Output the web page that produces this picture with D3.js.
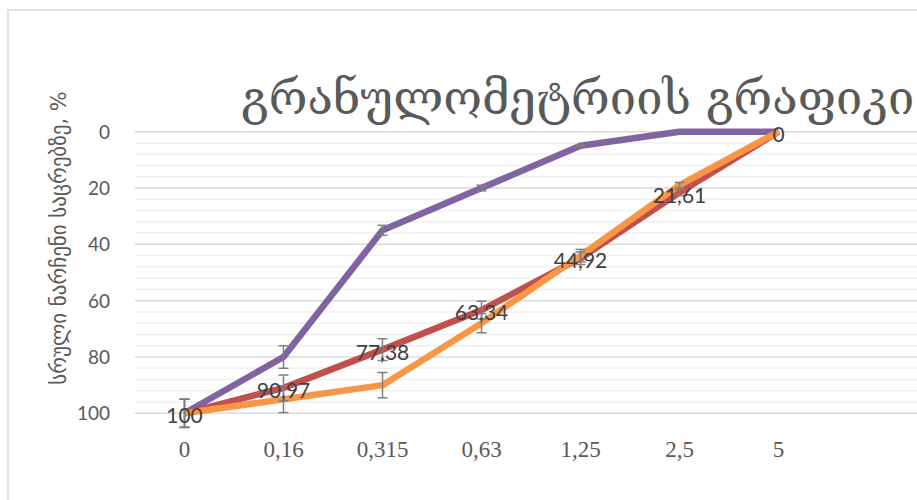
<!DOCTYPE html>
<html>
<head>
<meta charset="utf-8">
<script src="https://cdn.jsdelivr.net/npm/d3@7"></script>
<style>
  body { margin: 0; background: #fff; }
  svg { display: block; }
</style>
</head>
<body>
<svg width="917" height="500"></svg>
<script>
// sieve sizes (mm) - x categories
var sieves = ["0", "0,16", "0,315", "0,63", "1,25", "2,5", "5"];
// residue on sieve, %
var seriesPurple = [100, 80, 35, 20, 5, 0, 0];
var seriesRed = [100, 90.97, 77.38, 63.34, 44.92, 21.61, 0];
var seriesOrange = [100, 95, 90, 68, 44, 19, 0];
var yTicks = [0, 20, 40, 60, 80, 100];
var errPct = 0.05;

var chartTitle = "გრანულომეტრიის გრაფიკი";
var yTitle = "სრული ნარჩენი საცრებზე, %";

var svg = d3.select("svg");
var W = +svg.attr("width"), H = +svg.attr("height");

var plot = { left: 135, top: 131.7, bottom: 413.3, right: 917 };

// chart area border
svg.append("rect")
    .attr("x", 8).attr("y", 10)
    .attr("width", W + 20).attr("height", H + 20)
    .attr("fill", "#fff")
    .attr("stroke", "#d9d9d9").attr("stroke-width", 1.5);

var x = d3.scaleBand().domain(sieves).range([plot.left, plot.left + 99 * sieves.length]);
var y = d3.scaleLinear().domain([0, 100]).range([plot.top, plot.bottom]);

function cx(d) { return x(d) + x.bandwidth() / 2; }

// minor gridlines
svg.append("g").selectAll("line")
    .data(d3.range(0, 101, 4).filter(function(v){ return v % 20 !== 0; }))
    .enter().append("line")
    .attr("x1", plot.left).attr("x2", plot.right)
    .attr("y1", function(d){ return y(d); }).attr("y2", function(d){ return y(d); })
    .attr("stroke", "#f0f0f0").attr("stroke-width", 1.5);

// major gridlines
svg.append("g").selectAll("line")
    .data(yTicks)
    .enter().append("line")
    .attr("x1", plot.left).attr("x2", plot.right)
    .attr("y1", function(d){ return y(d); }).attr("y2", function(d){ return y(d); })
    .attr("stroke", "#d9d9d9").attr("stroke-width", 1.5);

// y axis labels
var yAxis = d3.axisLeft(y).tickValues(yTicks).tickSize(0).tickPadding(0);
var gy = svg.append("g").attr("transform", "translate(110,0)").call(yAxis);
gy.select(".domain").remove();
gy.selectAll("text")
    .attr("fill", "#595959")
    .style("font-family", "Lato, 'Open Sans', sans-serif")
    .style("font-size", "19px")
    .attr("dy", "0.34em");

// x axis labels
var xAxis = d3.axisBottom(x).tickSize(0).tickPadding(0);
var gx = svg.append("g").attr("transform", "translate(0,440)").call(xAxis);
gx.select(".domain").remove();
gx.selectAll("text")
    .attr("fill", "#595959")
    .attr("dy", "0.75em")
    .style("font-family", "'Liberation Serif', 'DejaVu Serif', serif")
    .style("font-size", "23px");

// lines
var line = d3.line()
    .x(function(d, i){ return cx(sieves[i]); })
    .y(function(d){ return y(d); });

var series = [
    { name: "purple", values: seriesPurple, color: "#8064a2" },
    { name: "red", values: seriesRed, color: "#c0504d" },
    { name: "orange", values: seriesOrange, color: "#f79646" }
];

svg.append("g").selectAll("path")
    .data(series)
    .enter().append("path")
    .attr("d", function(s){ return line(s.values); })
    .attr("fill", "none")
    .attr("stroke", function(s){ return s.color; })
    .attr("stroke-width", 6.5)
    .attr("stroke-linejoin", "round");

// error bars (5%)
var errData = [];
series.forEach(function(s){
    s.values.forEach(function(v, i){
        if (v > 0) errData.push({ cat: sieves[i], v: v, e: v * errPct });
    });
});

var eb = svg.append("g").selectAll("g")
    .data(errData)
    .enter().append("g")
    .attr("stroke", "#7f7f7f").attr("stroke-width", 1.5);
eb.append("line")
    .attr("x1", function(d){ return cx(d.cat); }).attr("x2", function(d){ return cx(d.cat); })
    .attr("y1", function(d){ return y(d.v - d.e); }).attr("y2", function(d){ return y(d.v + d.e); });
eb.append("line")
    .attr("x1", function(d){ return cx(d.cat) - 5; }).attr("x2", function(d){ return cx(d.cat) + 5; })
    .attr("y1", function(d){ return y(d.v - d.e); }).attr("y2", function(d){ return y(d.v - d.e); });
eb.append("line")
    .attr("x1", function(d){ return cx(d.cat) - 5; }).attr("x2", function(d){ return cx(d.cat) + 5; })
    .attr("y1", function(d){ return y(d.v + d.e); }).attr("y2", function(d){ return y(d.v + d.e); });

// data labels for red series
svg.append("g").selectAll("text")
    .data(seriesRed)
    .enter().append("text")
    .attr("x", function(d, i){ return cx(sieves[i]); })
    .attr("y", function(d){ return y(d) + 10; })
    .attr("text-anchor", "middle")
    .attr("fill", "#404040")
    .style("font-family", "Lato, 'Open Sans', sans-serif")
    .style("font-size", "21px")
    .text(function(d){ return String(d).replace(".", ","); });

// title
svg.append("text")
    .attr("x", 241).attr("y", 114)
    .attr("fill", "#595959")
    .style("font-family", "'DejaVu Serif', 'DejaVu Sans', serif")
    .style("font-size", "47px")
    .text(chartTitle);

// y axis title
svg.append("text")
    .attr("transform", "translate(66,238) rotate(-90)")
    .attr("text-anchor", "middle")
    .attr("fill", "#595959")
    .style("font-family", "'DejaVu Sans', sans-serif")
    .style("font-size", "21px")
    .text(yTitle);
</script>
</body>
</html>
